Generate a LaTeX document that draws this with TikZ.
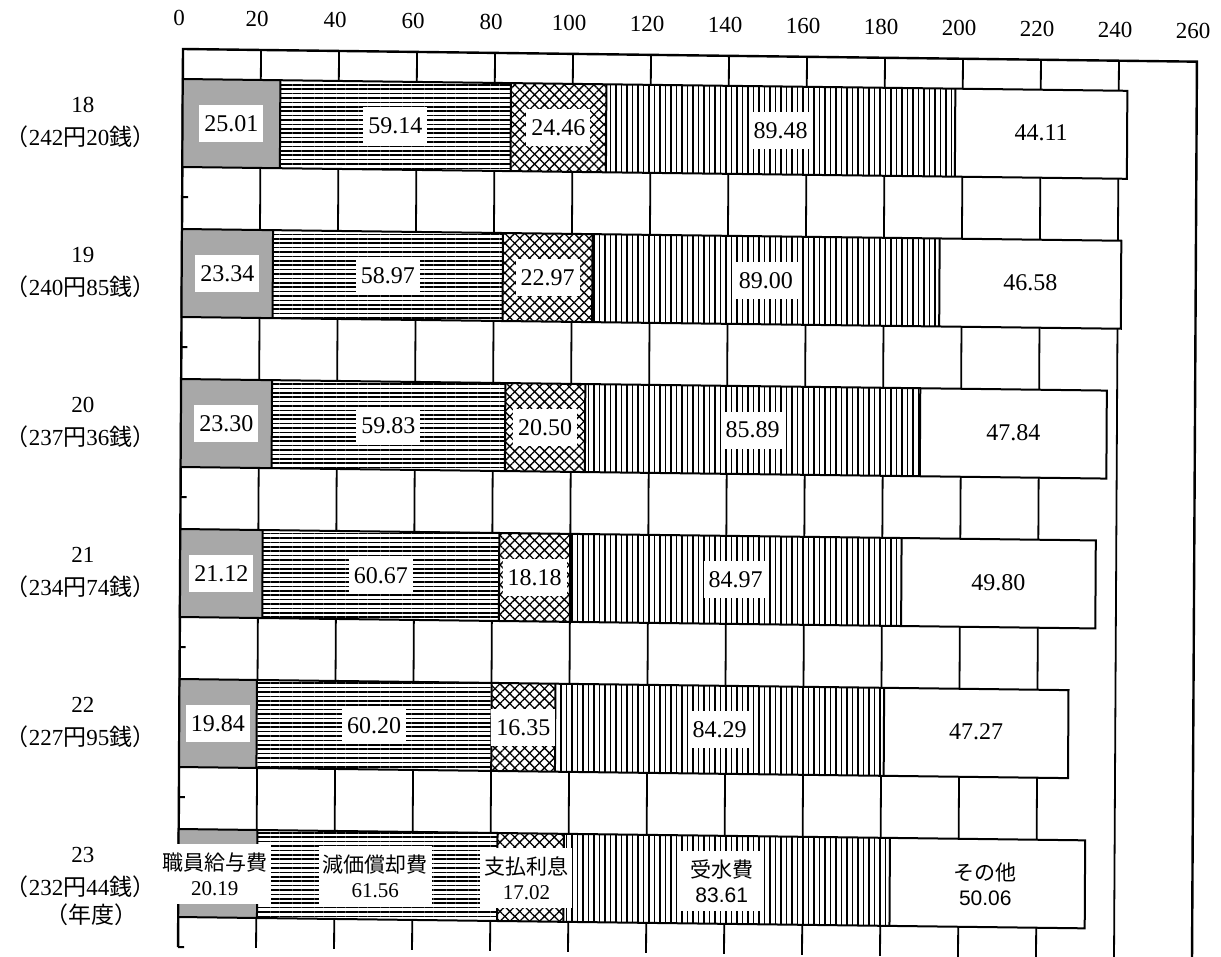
\documentclass[tikz,border=0pt]{standalone}
\usepackage{fontspec}
\setmainfont{Liberation Serif}
\newfontfamily\jp{Noto Sans CJK JP}
\newfontfamily\sansf{Liberation Sans}
\usetikzlibrary{patterns.meta}
\begin{document}
\begin{tikzpicture}[x=1pt,y=-1pt,
  gridline/.style={line width=1.8pt,black},
  frameline/.style={line width=2.4pt,black},
  segline/.style={line width=2pt,black},
  axlab/.style={font=\fontsize{23}{25}\selectfont,inner sep=0pt},
  yrlab/.style={font=\fontsize{23}{25}\selectfont,inner sep=0pt},
  yenlab/.style={font=\fontsize{23}{25}\selectfont,inner sep=0pt},
  numbox/.style={fill=white,inner xsep=5pt,inner ysep=0pt,minimum height=37pt,font=\fontsize{24}{26}\selectfont},
  twobox/.style={fill=white,inner xsep=4pt,inner ysep=0pt,minimum height=60pt,align=center,font=\fontsize{21}{25}\selectfont},
  plain/.style={inner sep=0pt,font=\fontsize{24}{26}\selectfont},
  stipple/.style={fill=black!34},
  hlines/.style={pattern={Lines[angle=0,distance=4.4pt,line width=1.5pt]}},
  vlines/.style={pattern={Lines[angle=90,distance=5.5pt,line width=1.3pt]}},
  xhatch/.style={pattern={Hatch[angle=45,distance=7pt,line width=1.3pt]}}]
\useasboundingbox (0,0) rectangle (1221,956);
\fill[white] (0,0) rectangle (1221,956);
\begin{scope}[shift={(183,49)},xslant=0.0055,yslant=-0.0125]
  % axis labels
  \foreach \v in {0,20,...,260}{
    \node[axlab] (ax\v) at ({3.9*\v-4},-31) {\v};
  }
  % grid lines
  \foreach \k in {1,...,12}{
    \draw[gridline] ({78*\k},0) -- ({78*\k},898);
  }
  % frame
  \draw[frameline] (0,898) -- (0,0) -- (1014,0) -- (1014,898);
  % small ticks on left axis
  \foreach \i in {0,...,4}{
    \draw[line width=2pt] (0,{148+150*\i}) -- (6,{148+150*\i});
  }
  \draw[line width=2pt] (0,898) -- (6,898);
  % bars
  \foreach \i/\a/\b/\c/\d/\e/\yr/\yy/\yz in {
      0/25.01/59.14/24.46/89.48/44.11/18/242/20,
      1/23.34/58.97/22.97/89.00/46.58/19/240/85,
      2/23.30/59.83/20.50/85.89/47.84/20/237/36,
      3/21.12/60.67/18.18/84.97/49.80/21/234/74,
      4/19.84/60.20/16.35/84.29/47.27/22/227/95,
      5/20.19/61.56/17.02/83.61/50.06/23/232/44}{
    \pgfmathsetmacro\ya{30+150*\i}
    \pgfmathsetmacro\yb{\ya+88}
    \pgfmathsetmacro\ym{\ya+44}
    \pgfmathsetmacro\xa{3.9*\a}
    \pgfmathsetmacro\xb{\xa+3.9*\b}
    \pgfmathsetmacro\xc{\xb+3.9*\c}
    \pgfmathsetmacro\xd{\xc+3.9*\d}
    \pgfmathsetmacro\xe{\xd+3.9*\e}
    \pgfmathsetmacro\xl{-102+0.0055*\ya}
    \fill[white] (0,\ya) rectangle (\xe,\yb);
    \path[stipple] (0,\ya) rectangle (\xa,\yb);
    \path[hlines] (\xa,\ya) rectangle (\xb,\yb);
    \path[xhatch] (\xb,\ya) rectangle (\xc,\yb);
    \path[vlines] (\xc,\ya) rectangle (\xd,\yb);
    \draw[segline] (0,\ya) rectangle (\xe,\yb);
    \draw[segline] (\xa,\ya) -- (\xa,\yb) (\xb,\ya) -- (\xb,\yb)
                   (\xc,\ya) -- (\xc,\yb) (\xd,\ya) -- (\xd,\yb);
    % year labels
    \node[yrlab] (yr\i) at ({\xl+2},{\ya+27}) {\yr};
    \node[yenlab] (yen\i) at (\xl,{\ya+59}) {{\jp （}\yy{\jp 円}\yz{\jp 銭）}};
    \ifnum\i<5
      \node[numbox] (n\i a) at ({\xa/2},\ym) {\a};
      \node[numbox] (n\i b) at ({(\xa+\xb)/2},\ym) {\b};
      \node[numbox] (n\i c) at ({(\xb+\xc)/2},\ym) {\c};
      \node[numbox] (n\i d) at ({(\xc+\xd)/2},\ym) {\d};
      \node[plain] (n\i e) at ({(\xd+\xe)/2},{\ym-1}) {\e};
    \else
      \node[twobox] (n5a) at ({\xa/2-3},{\ya+45}) {{\jp 職員給与費}\\20.19};
      \node[twobox] (n5b) at ({(\xa+\xb)/2-2},{\ya+45}) {{\jp 減価償却費}\\61.56};
      \node[twobox] (n5c) at ({(\xb+\xc)/2-4},{\ya+45}) {{\jp 支払利息}\\17.02};
      \node[twobox,inner xsep=10pt] (n5d) at ({(\xc+\xd)/2-5},{\ya+45}) {{\jp 受水費}\\{\sansf 83.61}};
      \node[twobox,fill=none] (n5e) at ({(\xd+\xe)/2-2},{\ya+45}) {{\jp その他}\\{\sansf 50.06}};
    \fi
  }
  \node[yenlab,anchor=east] (nendo) at (-41,866) {\jp （年度）};
\end{scope}
\end{tikzpicture}
\end{document}
